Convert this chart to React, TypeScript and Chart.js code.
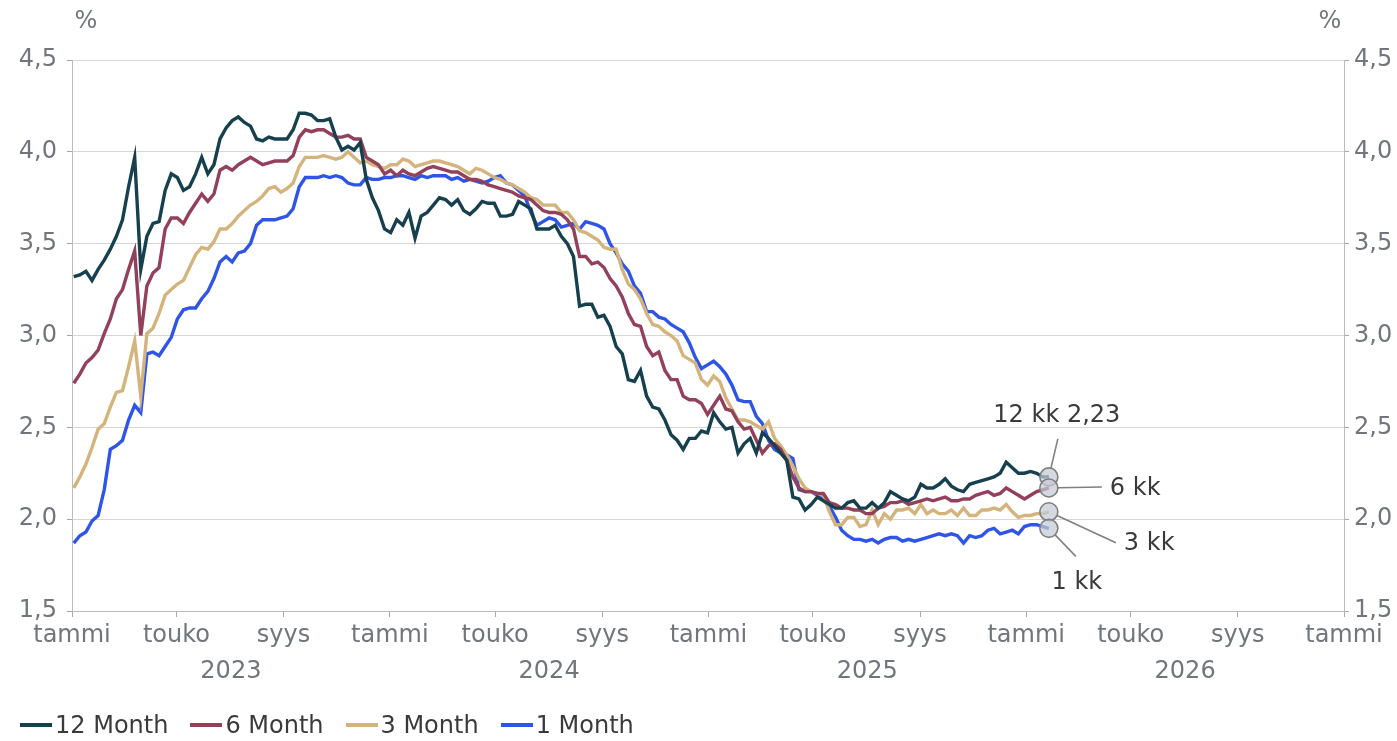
import React, { useEffect, useRef } from "react";
import { Chart, registerables } from "chart.js";

Chart.register(...registerables);

// ---------- data ----------
const SERIES_NAMES = ["12 Month", "6 Month", "3 Month", "1 Month"];
const MARKER_NAMES = ["12 kk", "6 kk", "3 kk", "1 kk"];

// observations are weekly, first one on 3 Jan 2023 (days counted from 1 Jan 2023)
const FIRST_DAY = 2;
const STEP_DAYS = 7;

const M12 = [
  3.32, 3.33, 3.35, 3.30, 3.36, 3.41, 3.47, 3.54, 3.63, 3.81,
  3.97, 3.36, 3.54, 3.61, 3.62, 3.79, 3.88, 3.86, 3.79, 3.81,
  3.88, 3.97, 3.88, 3.93, 4.07, 4.13, 4.17, 4.19, 4.16, 4.14,
  4.07, 4.06, 4.08, 4.07, 4.07, 4.07, 4.12, 4.21, 4.21, 4.20,
  4.17, 4.17, 4.18, 4.08, 4.01, 4.03, 4.01, 4.05, 3.85, 3.75,
  3.68, 3.58, 3.56, 3.63, 3.60, 3.67, 3.53, 3.65, 3.67, 3.71,
  3.75, 3.74, 3.71, 3.74, 3.68, 3.66, 3.69, 3.73, 3.72, 3.72,
  3.65, 3.65, 3.66, 3.73, 3.71, 3.69, 3.58, 3.58, 3.58, 3.60,
  3.54, 3.50, 3.43, 3.16, 3.17, 3.17, 3.10, 3.11, 3.05, 2.94,
  2.90, 2.76, 2.75, 2.81, 2.67, 2.61, 2.60, 2.54, 2.46, 2.43,
  2.38, 2.44, 2.44, 2.48, 2.47, 2.58, 2.53, 2.49, 2.50, 2.36,
  2.41, 2.44, 2.36, 2.47, 2.44, 2.40, 2.36, 2.32, 2.12, 2.11,
  2.05, 2.08, 2.12, 2.10, 2.08, 2.06, 2.06, 2.09, 2.10, 2.06,
  2.06, 2.09, 2.06, 2.09, 2.15, 2.13, 2.11, 2.10, 2.12, 2.19,
  2.17, 2.17, 2.19, 2.22, 2.18, 2.16, 2.15, 2.19, 2.20, 2.21,
  2.22, 2.23, 2.25, 2.31, 2.28, 2.25, 2.25, 2.26, 2.25, 2.23, 2.23,
];

const M6 = [
  2.74, 2.79, 2.85, 2.88, 2.92, 3.01, 3.09, 3.20, 3.25, 3.36,
  3.46, 3.00, 3.27, 3.34, 3.37, 3.58, 3.64, 3.64, 3.61, 3.67,
  3.72, 3.77, 3.73, 3.77, 3.90, 3.92, 3.90, 3.93, 3.95, 3.97,
  3.95, 3.93, 3.94, 3.95, 3.95, 3.95, 3.98, 4.08, 4.12, 4.11,
  4.12, 4.12, 4.10, 4.08, 4.08, 4.09, 4.07, 4.07, 3.97, 3.95,
  3.93, 3.88, 3.90, 3.87, 3.90, 3.88, 3.87, 3.89, 3.91, 3.92,
  3.91, 3.90, 3.89, 3.89, 3.87, 3.85, 3.85, 3.84, 3.82, 3.81,
  3.80, 3.79, 3.78, 3.76, 3.75, 3.74, 3.71, 3.68, 3.67, 3.67,
  3.66, 3.63, 3.58, 3.43, 3.43, 3.39, 3.40, 3.37, 3.31, 3.27,
  3.21, 3.12, 3.06, 3.05, 2.94, 2.89, 2.91, 2.81, 2.76, 2.76,
  2.67, 2.65, 2.65, 2.63, 2.57, 2.62, 2.67, 2.60, 2.59, 2.53,
  2.49, 2.50, 2.43, 2.36, 2.40, 2.41, 2.38, 2.32, 2.23, 2.17,
  2.15, 2.15, 2.14, 2.14, 2.09, 2.08, 2.06, 2.06, 2.05, 2.05,
  2.03, 2.03, 2.06, 2.07, 2.09, 2.09, 2.10, 2.08, 2.09, 2.10,
  2.11, 2.10, 2.11, 2.12, 2.10, 2.10, 2.11, 2.11, 2.13, 2.14,
  2.15, 2.13, 2.14, 2.17, 2.15, 2.13, 2.11, 2.13, 2.15, 2.16, 2.17,
];

const M3 = [
  2.17, 2.23, 2.30, 2.39, 2.49, 2.52, 2.61, 2.69, 2.70, 2.83,
  2.97, 2.67, 3.01, 3.04, 3.12, 3.22, 3.25, 3.28, 3.30, 3.37,
  3.44, 3.48, 3.47, 3.51, 3.58, 3.58, 3.61, 3.65, 3.68, 3.71,
  3.73, 3.76, 3.80, 3.81, 3.78, 3.80, 3.83, 3.92, 3.97, 3.97,
  3.97, 3.98, 3.97, 3.96, 3.97, 4.00, 3.97, 3.94, 3.95, 3.93,
  3.92, 3.91, 3.93, 3.93, 3.96, 3.95, 3.92, 3.93, 3.94, 3.95,
  3.95, 3.94, 3.93, 3.92, 3.90, 3.88, 3.91, 3.90, 3.88, 3.86,
  3.85, 3.83, 3.82, 3.80, 3.78, 3.75, 3.74, 3.71, 3.71, 3.71,
  3.67, 3.67, 3.63, 3.57, 3.56, 3.54, 3.52, 3.48, 3.47, 3.47,
  3.36, 3.28, 3.25, 3.20, 3.12, 3.06, 3.05, 3.02, 3.00, 2.97,
  2.89, 2.87, 2.85, 2.76, 2.73, 2.78, 2.75, 2.66, 2.60, 2.54,
  2.54, 2.53, 2.51, 2.49, 2.53, 2.44, 2.40, 2.35, 2.29, 2.22,
  2.17, 2.15, 2.14, 2.13, 2.04, 1.97, 1.97, 2.01, 2.01, 1.96,
  1.97, 2.05, 1.97, 2.03, 2.00, 2.05, 2.05, 2.06, 2.03, 2.08,
  2.03, 2.05, 2.03, 2.03, 2.05, 2.02, 2.06, 2.02, 2.02, 2.05,
  2.05, 2.06, 2.05, 2.08, 2.04, 2.01, 2.02, 2.02, 2.03, 2.03, 2.04,
];

const M1 = [
  1.87, 1.91, 1.93, 1.99, 2.02, 2.16, 2.38, 2.40, 2.43, 2.54,
  2.62, 2.58, 2.90, 2.91, 2.89, 2.94, 2.99, 3.09, 3.14, 3.15,
  3.15, 3.20, 3.24, 3.31, 3.40, 3.43, 3.40, 3.45, 3.46, 3.50,
  3.60, 3.63, 3.63, 3.63, 3.64, 3.65, 3.69, 3.81, 3.86, 3.86,
  3.86, 3.87, 3.86, 3.87, 3.86, 3.83, 3.82, 3.82, 3.86, 3.85,
  3.85, 3.86, 3.86, 3.87, 3.87, 3.86, 3.85, 3.87, 3.86, 3.87,
  3.87, 3.87, 3.85, 3.86, 3.84, 3.85, 3.84, 3.83, 3.84, 3.86,
  3.87, 3.83, 3.82, 3.79, 3.76, 3.67, 3.60, 3.62, 3.64, 3.63,
  3.59, 3.60, 3.61, 3.58, 3.62, 3.61, 3.60, 3.58, 3.50, 3.45,
  3.39, 3.35, 3.27, 3.23, 3.13, 3.13, 3.10, 3.09, 3.06, 3.04,
  3.02, 2.96, 2.88, 2.82, 2.84, 2.86, 2.83, 2.79, 2.73, 2.65,
  2.64, 2.64, 2.56, 2.52, 2.43, 2.38, 2.36, 2.35, 2.33, 2.16,
  2.15, 2.15, 2.13, 2.11, 2.07, 2.01, 1.94, 1.91, 1.89, 1.89,
  1.88, 1.89, 1.87, 1.89, 1.90, 1.90, 1.88, 1.89, 1.88, 1.89,
  1.90, 1.91, 1.92, 1.91, 1.92, 1.91, 1.87, 1.91, 1.90, 1.91,
  1.94, 1.95, 1.92, 1.93, 1.94, 1.92, 1.96, 1.97, 1.97, 1.96, 1.95,
];

const SERIES = [M12, M6, M3, M1];

// x axis: days since 1 Jan 2023
const X_MIN = 0;
const X_MAX = 1461;
const TICK_DAYS = [0, 120, 243, 365, 486, 609, 731, 851, 974, 1096, 1216, 1339, 1461];
const TICK_LABELS = [
  "tammi", "touko", "syys",
  "tammi", "touko", "syys",
  "tammi", "touko", "syys",
  "tammi", "touko", "syys",
  "tammi",
];
const YEAR_LABELS = ["2023", "2024", "2025", "2026"];
const YEAR_BOUNDS = [0, 365, 731, 1096, 1461];

const Y_MIN = 1.5;
const Y_MAX = 4.5;
const Y_STEP = 0.5;
const UNIT_LABEL = "%";

// ---------- styles ----------
const COLORS = ["#17404e", "#93405a", "#d4b47c", "#2f55e8"];
const FONT = '"DejaVu Sans", Verdana, sans-serif';
const AXIS_TEXT = "#70767b";
const DARK_TEXT = "#3a3a3a";
const GRID = "#d6d6d6";
const AXIS_LINE = "#bcbcbc";
const MARKER_R = 9;
// callout offsets (pixels, relative to each end marker)
const CALLOUTS = [
  { line: [9, -38], text: [8, -61], align: "center" },
  { line: [53, -1], text: [61, 1], align: "left" },
  { line: [67, 31], text: [75, 32], align: "left" },
  { line: [27, 28], text: [28, 54], align: "center" },
];

const dayOf = (i: number) => FIRST_DAY + i * STEP_DAYS;
const fmt = (v: number, d: number) => v.toFixed(d).replace(".", ",");

export default function App() {
  const ref = useRef<HTMLCanvasElement | null>(null);

  useEffect(() => {
    document.body.style.margin = "0";
    const canvas = ref.current;
    if (!canvas) return;

    const lastPoints = SERIES.map((s) => ({ x: dayOf(s.length - 1), y: s[s.length - 1] }));

    const overlay = {
      id: "overlay",
      afterDatasetsDraw(chart: any) {
        const { ctx } = chart;
        const xs = chart.scales.x;
        const ys = chart.scales.y;
        ctx.save();
        lastPoints.forEach((p, k) => {
          const px = xs.getPixelForValue(p.x);
          const py = ys.getPixelForValue(p.y);
          const c = CALLOUTS[k];
          const len = Math.hypot(c.line[0], c.line[1]);
          ctx.strokeStyle = "#808080";
          ctx.lineWidth = 1.6;
          ctx.beginPath();
          ctx.moveTo(px + (c.line[0] / len) * MARKER_R, py + (c.line[1] / len) * MARKER_R);
          ctx.lineTo(px + c.line[0], py + c.line[1]);
          ctx.stroke();
          const label = k === 0 ? `${MARKER_NAMES[k]} ${fmt(p.y, 2)}` : MARKER_NAMES[k];
          ctx.fillStyle = DARK_TEXT;
          ctx.font = `24px ${FONT}`;
          ctx.textAlign = c.align as CanvasTextAlign;
          ctx.textBaseline = "middle";
          ctx.fillText(label, px + c.text[0], py + c.text[1]);
        });
        ctx.restore();
      },
      afterDraw(chart: any) {
        const { ctx, chartArea } = chart;
        const xs = chart.scales.x;
        ctx.save();
        ctx.fillStyle = AXIS_TEXT;
        ctx.font = `24px ${FONT}`;
        ctx.textAlign = "center";
        ctx.textBaseline = "middle";
        YEAR_LABELS.forEach((y, i) => {
          const mid = (YEAR_BOUNDS[i] + YEAR_BOUNDS[i + 1]) / 2;
          ctx.fillText(y, xs.getPixelForValue(mid), 672);
        });
        ctx.fillText(UNIT_LABEL, chartArea.left + 14, 22);
        ctx.fillText(UNIT_LABEL, chartArea.right - 14, 22);
        ctx.restore();
      },
    };

    const yTicks = {
      stepSize: Y_STEP,
      color: AXIS_TEXT,
      font: { size: 24, family: FONT },
      callback: (v: any) => fmt(Number(v), 1),
    };

    const chart = new Chart(canvas, {
      type: "line",
      data: {
        datasets: [
          {
            label: "markers",
            data: lastPoints,
            showLine: false,
            pointRadius: MARKER_R,
            pointBackgroundColor: "rgba(196,202,214,0.72)",
            pointBorderColor: "#7f7f7f",
            pointBorderWidth: 1.6,
            order: -1,
          } as any,
          ...SERIES.map((s, k) => ({
            label: SERIES_NAMES[k],
            data: s.map((v, i) => ({ x: dayOf(i), y: v })),
            borderColor: COLORS[k],
            backgroundColor: COLORS[k],
            borderWidth: 3.4,
            pointRadius: 0,
            tension: 0,
            order: k,
          })),
        ],
      },
      options: {
        animation: false,
        responsive: false,
        events: [],
        layout: { padding: { top: 60, left: 0, right: 0, bottom: 0 } },
        plugins: { legend: { display: false }, tooltip: { enabled: false } },
        scales: {
          x: {
            type: "linear",
            min: X_MIN,
            max: X_MAX,
            afterBuildTicks: (s: any) => {
              s.ticks = TICK_DAYS.map((v) => ({ value: v }));
            },
            afterFit: (s: any) => {
              s.height = 130;
            },
            ticks: {
              autoSkip: false,
              maxRotation: 0,
              padding: 4,
              color: AXIS_TEXT,
              font: { size: 24, family: FONT },
              callback: (_v: any, i: number) => TICK_LABELS[i],
            },
            grid: { drawOnChartArea: false, tickLength: 6, color: "#a8a8a8" },
            border: { color: AXIS_LINE },
          },
          y: {
            position: "left",
            min: Y_MIN,
            max: Y_MAX,
            afterFit: (s: any) => {
              s.width = 72;
            },
            ticks: { ...yTicks, padding: 10 },
            grid: { color: GRID, tickLength: 5, tickColor: "#a8a8a8" },
            border: { color: AXIS_LINE },
          },
          y2: {
            position: "right",
            min: Y_MIN,
            max: Y_MAX,
            afterFit: (s: any) => {
              s.width = 53;
            },
            ticks: { ...yTicks, padding: 5 },
            grid: { drawOnChartArea: false, tickLength: 5, color: "#a8a8a8" },
            border: { color: AXIS_LINE },
          },
        },
      } as any,
      plugins: [overlay],
    });

    return () => chart.destroy();
  }, []);

  return (
    <div style={{ position: "absolute", left: 0, top: 0, width: 1397, height: 741 }}>
      <canvas ref={ref} width={1397} height={741} />
      <div
        style={{
          position: "absolute",
          left: 20,
          top: 710,
          display: "flex",
          alignItems: "center",
          fontFamily: FONT,
          fontSize: 24,
          color: DARK_TEXT,
          lineHeight: "30px",
          whiteSpace: "nowrap",
        }}
      >
        {SERIES_NAMES.map((n, k) => (
          <div key={n} style={{ display: "flex", alignItems: "center", marginRight: 22 }}>
            <span style={{ display: "inline-block", width: 32, height: 4, background: COLORS[k], marginRight: 3 }} />
            <span>{n}</span>
          </div>
        ))}
      </div>
    </div>
  );
}
